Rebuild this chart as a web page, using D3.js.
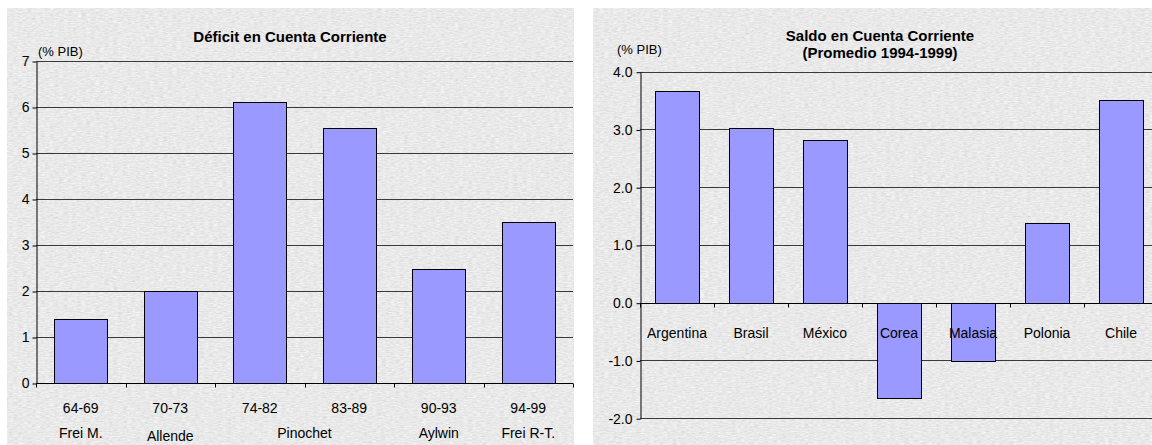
<!DOCTYPE html>
<html>
<head>
<meta charset="utf-8">
<script src="https://cdn.jsdelivr.net/npm/d3@7"></script>
<style>
  html, body { margin: 0; padding: 0; background: #fff; }
  svg { display: block; font-family: "Liberation Sans", Arial, sans-serif; }
</style>
</head>
<body>
<svg id="chart" width="1152" height="445"></svg>
<script>
// Current-account deficit by period (% of GDP)
const periods = ["64-69", "70-73", "74-82", "83-89", "90-93", "94-99"];
const deficit = [1.4, 2.0, 6.1, 5.55, 2.47, 3.5];
const deficitTicks = [0, 1, 2, 3, 4, 5, 6, 7];
const governments = ["Frei M.", "Allende", "Pinochet", "Aylwin", "Frei R-T."];
const governmentFirst = ["64-69", "70-73", "74-82", "90-93", "94-99"];
const governmentLast  = ["64-69", "70-73", "83-89", "90-93", "94-99"];

// Current-account balance by country, 1994-1999 average (% of GDP)
const countries = ["Argentina", "Brasil", "México", "Corea", "Malasia", "Polonia", "Chile"];
const balance = [3.67, 3.03, 2.82, -1.65, -1.01, 1.38, 3.51];
const balanceTicks = [-2, -1, 0, 1, 2, 3, 4];

const svg = d3.select("#chart");
const BAR_FILL = "#9999ff";
const GRID = "#3a3a3a";

// grainy grey panel fill
const defs = svg.append("defs");
const f = defs.append("filter").attr("id", "grain")
  .attr("x", 0).attr("y", 0).attr("width", 1).attr("height", 1)
  .attr("filterUnits", "objectBoundingBox")
  .attr("color-interpolation-filters", "sRGB");
f.append("feTurbulence").attr("type", "fractalNoise")
  .attr("baseFrequency", "0.22 0.8").attr("numOctaves", 3).attr("seed", 7);
f.append("feColorMatrix").attr("type", "saturate").attr("values", 0);
const ct = f.append("feComponentTransfer");
["R", "G", "B"].forEach(c => ct.append("feFunc" + c).attr("type", "linear").attr("slope", 0.2).attr("intercept", 0.815));
ct.append("feFuncA").attr("type", "linear").attr("slope", 0).attr("intercept", 1);

function panel(x0, x1) {
  svg.append("rect").attr("x", x0).attr("y", 8).attr("width", x1 - x0).attr("height", 445 - 8)
    .attr("fill", "#e8e8e8").attr("filter", "url(#grain)");
}
panel(7, 574);
panel(593, 1152);

function labelText(g, x, y, str, opts = {}) {
  return g.append("text").attr("x", x).attr("y", y)
    .attr("text-anchor", opts.anchor || "middle")
    .attr("font-size", opts.size || 13)
    .attr("font-weight", opts.bold ? "bold" : null)
    .attr("fill", "#000")
    .text(str);
}

// ---------- Left chart ----------
{
  const g = svg.append("g");
  const x = d3.scaleBand().domain(periods).range([36, 573]).paddingInner(0.41).paddingOuter(0.205);
  const y = d3.scaleLinear().domain([0, 7]).range([383, 61]);

  g.append("g").selectAll("line").data(deficitTicks.filter(d => d !== 0)).join("line")
    .attr("x1", 36).attr("x2", 573).attr("y1", d => y(d) + 0.5).attr("y2", d => y(d) + 0.5)
    .attr("stroke", GRID).attr("stroke-width", 1);

  g.append("g").selectAll("rect").data(periods).join("rect")
    .attr("x", (d, i) => Math.round(x(d)) + 0.5)
    .attr("y", (d, i) => Math.round(y(deficit[i])) + 0.5)
    .attr("width", Math.round(x.bandwidth()))
    .attr("height", (d, i) => Math.round(y(0)) - Math.round(y(deficit[i])))
    .attr("fill", BAR_FILL).attr("stroke", "#000").attr("stroke-width", 1);

  const ya = g.append("g").attr("transform", "translate(36.5,0.5)")
    .call(d3.axisLeft(y).tickValues(deficitTicks).tickFormat(d3.format("d")).tickSize(4).tickSizeOuter(0).tickPadding(3));
  ya.select(".domain").attr("stroke", "#000");
  ya.selectAll(".tick line").attr("stroke", "#000");
  ya.selectAll("text").attr("font-size", 14).attr("font-family", "'Liberation Sans', Arial, sans-serif").attr("fill", "#000");

  // category axis with ticks at band boundaries
  const y0 = Math.round(y(0)) + 0.5;
  g.append("line").attr("x1", 36).attr("x2", 573).attr("y1", y0).attr("y2", y0).attr("stroke", "#000");
  const bounds = d3.range(periods.length + 1).map(i => 36 + i * x.step());
  g.append("g").selectAll("line").data(bounds).join("line")
    .attr("x1", d => Math.round(d) + 0.5).attr("x2", d => Math.round(d) + 0.5)
    .attr("y1", y0).attr("y2", y0 + 4).attr("stroke", "#000");

  periods.forEach(p => labelText(g, x(p) + x.bandwidth() / 2, 413, p, { size: 14 }));
  governments.forEach((name, i) => {
    const a = x(governmentFirst[i]) + x.bandwidth() / 2;
    const b = x(governmentLast[i]) + x.bandwidth() / 2;
    labelText(g, (a + b) / 2, name === "Allende" ? 441 : 438, name, { size: 14 });
  });

  labelText(g, 38, 56, "(% PIB)", { anchor: "start", size: 13 });
  labelText(g, 290, 42, "Déficit en Cuenta Corriente", { size: 15, bold: true });
}

// ---------- Right chart ----------
{
  const g = svg.append("g");
  const x = d3.scaleBand().domain(countries).range([640, 1158]).paddingInner(0.405).paddingOuter(0.2025);
  const y = d3.scaleLinear().domain([-2, 4]).range([418.2, 71.7]);

  g.append("g").selectAll("line").data(balanceTicks.filter(d => d !== 0)).join("line")
    .attr("x1", 640).attr("x2", 1158).attr("y1", d => Math.round(y(d)) + 0.5).attr("y2", d => Math.round(y(d)) + 0.5)
    .attr("stroke", GRID).attr("stroke-width", 1);

  const z = Math.round(y(0));
  g.append("g").selectAll("rect").data(countries).join("rect")
    .attr("x", d => Math.round(x(d)) + 0.5)
    .attr("y", (d, i) => Math.round(y(Math.max(0, balance[i]))) + 0.5)
    .attr("width", Math.round(x.bandwidth()))
    .attr("height", (d, i) => Math.abs(Math.round(y(balance[i])) - z))
    .attr("fill", BAR_FILL).attr("stroke", "#000").attr("stroke-width", 1);

  const ya = g.append("g").attr("transform", "translate(640.5,0.5)")
    .call(d3.axisLeft(y).tickValues(balanceTicks).tickFormat(d3.format(".1f")).tickSize(4).tickSizeOuter(0).tickPadding(4));
  ya.select(".domain").attr("stroke", "#000");
  ya.selectAll(".tick line").attr("stroke", "#000");
  ya.selectAll("text").attr("font-size", 14).attr("font-family", "'Liberation Sans', Arial, sans-serif").attr("fill", "#000")
    .text(d => d3.format(".1f")(d).replace("−", "-"));

  const y0 = z + 0.5;
  g.append("line").attr("x1", 640).attr("x2", 1158).attr("y1", y0).attr("y2", y0).attr("stroke", "#000");
  const bounds = d3.range(countries.length + 1).map(i => 640 + i * x.step());
  g.append("g").selectAll("line").data(bounds).join("line")
    .attr("x1", d => Math.round(d) + 0.5).attr("x2", d => Math.round(d) + 0.5)
    .attr("y1", y0).attr("y2", y0 + 4).attr("stroke", "#000");

  countries.forEach(c => labelText(g, x(c) + x.bandwidth() / 2, 338, c, { size: 14 }));

  labelText(g, 617, 54, "(% PIB)", { anchor: "start", size: 13 });
  labelText(g, 880, 41, "Saldo en Cuenta Corriente", { size: 15, bold: true });
  labelText(g, 880, 58, "(Promedio 1994-1999)", { size: 15, bold: true });
}
</script>
</body>
</html>
